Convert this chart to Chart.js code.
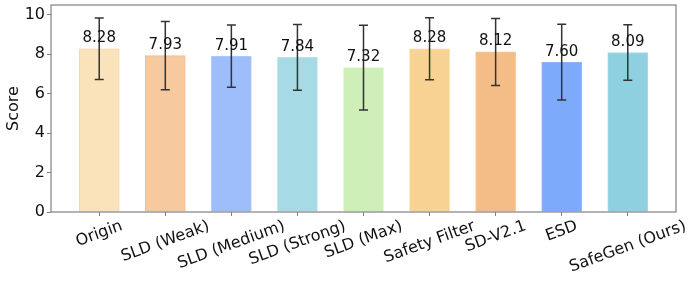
<!doctype html>
<html lang="en">
  <head>
    <meta charset="utf-8">
    <title>Score</title>
    <script src="https://cdn.jsdelivr.net/npm/chart.js@4.4.0/dist/chart.umd.min.js"></script>
    <style>
      body { margin: 0; background: #fff; }
      #chartx { width: 698px; height: 283px; }
    </style>
  </head>
  <body>
    <div id="chartx"><canvas id="myChart" width="698" height="283"></canvas></div>

<script>
const methods = ['Origin', 'SLD (Weak)', 'SLD (Medium)', 'SLD (Strong)', 'SLD (Max)', 'Safety Filter', 'SD-V2.1', 'ESD', 'SafeGen (Ours)']
const scores = [8.28, 7.93, 7.91, 7.84, 7.32, 8.28, 8.12, 7.60, 8.09]
const stdDev = [1.56, 1.73, 1.58, 1.67, 2.15, 1.57, 1.70, 1.92, 1.41]
const yTicks = [0, 2, 4, 6, 8, 10]

const fillColors = ['#fae2bb', '#f6c99f', '#9dbdfb', '#a6dae5', '#ceefb7', '#f8d293', '#f4bc87', '#7eaafb', '#8fd0e0']
const edgeColors = ['#f8d7a0', '#f3bd8e', '#b3cbfb', '#b8e1ea', '#d9f2c8', '#fadca6', '#f6c89a', '#95b9fb', '#a5d9e6']

const spineColor = '#808080'
const FONT = 'DejaVu Sans'
Chart.defaults.font.family = FONT
Chart.defaults.color = '#111'

// error bars, value labels, frame and the rotated tick labels
const extras = {
    id: 'extras',
    afterDatasetsDraw(chart) {
        const ctx = chart.ctx
        const xs = chart.scales.x
        const ys = chart.scales.y
        const area = chart.chartArea
        ctx.save()

        // frame
        ctx.strokeStyle = spineColor
        ctx.lineWidth = 1.2
        ctx.strokeRect(area.left, area.top, area.right - area.left, area.bottom - area.top)

        // error bars
        ctx.strokeStyle = '#333'
        ctx.lineWidth = 1.5
        scores.forEach((v, i) => {
            const x = xs.getPixelForValue(i)
            const top = ys.getPixelForValue(v + stdDev[i])
            const bot = ys.getPixelForValue(v - stdDev[i])
            ctx.beginPath()
            ctx.moveTo(x, top); ctx.lineTo(x, bot)
            ctx.moveTo(x - 4.5, top); ctx.lineTo(x + 4.5, top)
            ctx.moveTo(x - 4.5, bot); ctx.lineTo(x + 4.5, bot)
            ctx.stroke()
        })

        // value labels
        ctx.fillStyle = '#111'
        ctx.font = '15px "' + FONT + '"'
        ctx.textAlign = 'center'
        ctx.textBaseline = 'alphabetic'
        scores.forEach((v, i) => {
            ctx.fillText(v.toFixed(2), xs.getPixelForValue(i), ys.getPixelForValue(v) - 6.5)
        })

        // x tick labels, rotated 20deg, centered on tick like matplotlib
        const ang = 20 * Math.PI / 180
        ctx.font = '16px "' + FONT + '"'
        ctx.textBaseline = 'middle'
        const y0 = area.bottom + 5
        const h = 16 * 1.16
        methods.forEach((m, i) => {
            const w = ctx.measureText(m).width
            const bh = w * Math.sin(ang) + h * Math.cos(ang)
            ctx.save()
            ctx.translate(xs.getPixelForValue(i), y0 + bh / 2)
            ctx.rotate(-ang)
            ctx.fillText(m, 0, 0)
            ctx.restore()
        })
        ctx.restore()
    }
}

const config = {
    type: 'bar',
    data: {
        datasets: [{
            data: scores.map((v, i) => ({x: i, y: v})),
            backgroundColor: fillColors,
            borderColor: edgeColors,
            borderWidth: 1,
            barThickness: 40,
        }]
    },
    options: {
        responsive: false,
        animation: false,
        layout: {
            padding: {top: 5, right: 22, left: 0, bottom: 0}
        },
        scales: {
            x: {
                type: 'linear',
                min: -0.73,
                max: 8.73,
                offset: false,
                afterBuildTicks: s => { s.ticks = methods.map((_, i) => ({value: i})) },
                afterFit: s => { s.height = 71; s.paddingLeft = 0; s.paddingRight = 0 },
                ticks: {display: false},
                grid: {offset: false, drawOnChartArea: false, drawTicks: true, tickLength: 4, color: spineColor, lineWidth: 1},
                border: {display: false}
            },
            y: {
                min: 0,
                max: 10.5,
                afterBuildTicks: s => { s.ticks = yTicks.map(v => ({value: v})) },
                afterFit: s => { s.width = 51; s.paddingTop = 0; s.paddingBottom = 0 },
                ticks: {font: {size: 16}, color: '#111', padding: 2},
                grid: {drawOnChartArea: false, drawTicks: true, tickLength: 4, color: spineColor, lineWidth: 1},
                border: {display: false},
                title: {display: true, text: 'Score', font: {size: 16}, color: '#111'}
            }
        },
        plugins: {
            legend: {display: false},
            tooltip: {enabled: false}
        }
    },
    plugins: [extras]
}

const myChart = new Chart(document.getElementById('myChart'), config)
</script>
  </body>
</html>
